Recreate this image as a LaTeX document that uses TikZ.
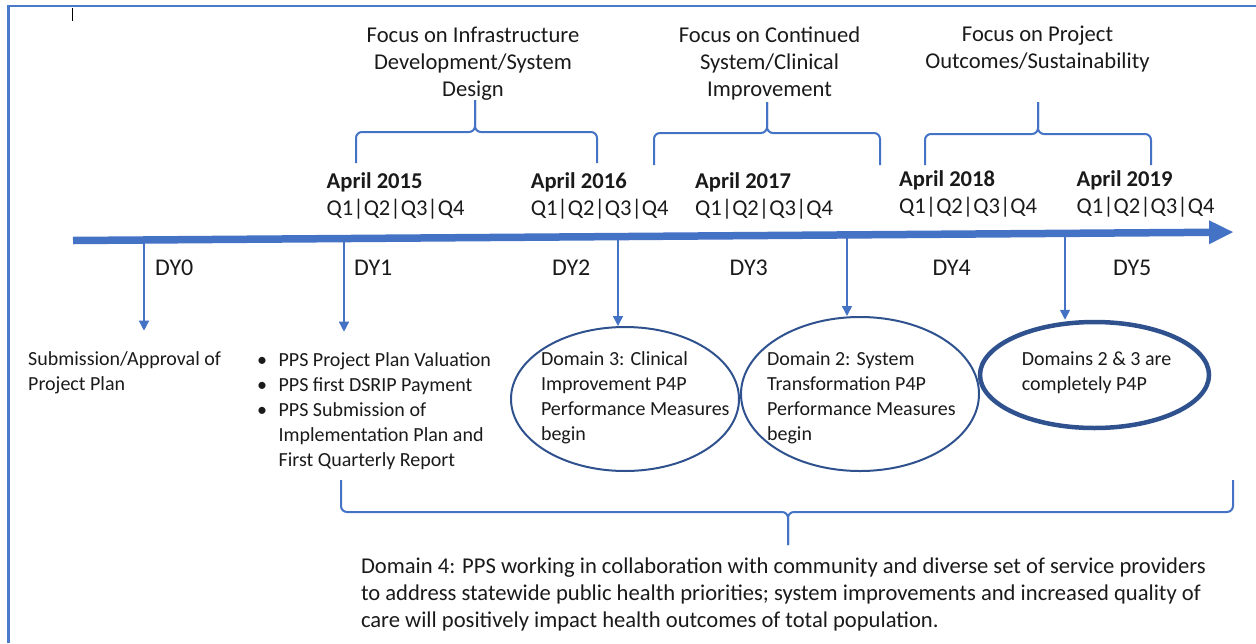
\documentclass[tikz,border=0pt]{standalone}
\usepackage{fontspec}
\setmainfont{Carlito}
\usetikzlibrary{arrows.meta,shapes.geometric}
\definecolor{lineblue}{HTML}{4472C4}
\definecolor{ellblue}{HTML}{2F528F}
\definecolor{frameblue}{HTML}{4A7BCB}
\definecolor{txt}{HTML}{1A1A1A}
\newcommand{\tlbrace}[6]{%
  \draw[brace] (#1,#6) -- (#1,#4) -- (#2,#4) -- (#2,#5);
  \draw[brace] (#3,#6) -- (#3,#4) -- (#2,#4) -- (#2,#5);}
\begin{document}
\begin{tikzpicture}[x=1pt,y=-1pt,
  fA/.style={font=\fontsize{22.6pt}{27.2pt}\selectfont, yshift=14.5pt},
  fB/.style={font=\fontsize{20pt}{25pt}\selectfont, yshift=15pt},
  fD/.style={font=\fontsize{24pt}{29pt}\selectfont},
  ttl/.style={inner sep=0pt, anchor=north west, align=left, text=txt, execute at begin node=\strut},
  ttc/.style={inner sep=0pt, anchor=north, align=center, text=txt, execute at begin node=\strut},
  dylabel/.style={fD, inner sep=0pt, anchor=base west, text=txt},
  dyarrow/.style={draw=lineblue, line width=1.5pt, -{Triangle[length=10pt,width=10pt]}},
  brace/.style={draw=lineblue, line width=2pt, rounded corners=6pt},
  shaft/.style={draw=lineblue, line width=7.5pt},
  head/.style={fill=lineblue},
  frame/.style={draw=frameblue, line width=2.4pt},
  dom/.style={ellipse, draw=ellblue, line width=2pt, inner sep=0pt},
]
\useasboundingbox (0,0) rectangle (1256,643);
% frame and cursor
\draw[frame] (8.5,643) -- (8.5,6) -- (1256,6);
\draw[black, line width=1pt] (72.5,8) -- (72.5,21);

% focus texts
\node[ttc, fA] (f1) at (473,41) {Focus on Infrastructure\\Development/System\\Design};
\node[ttc, fA] (f2) at (769.5,41) {Focus on Continued\\System/Clinical\\Improvement};
\node[ttc, fA] (f3) at (1037.5,40) {Focus on Project\\Outcomes/Sustainability};

% braces
\tlbrace{356}{475}{597}{132}{100}{163}
\tlbrace{654}{767}{880}{133}{102}{165}
\tlbrace{925}{1038}{1151}{134}{102}{165}
\tlbrace{341}{788}{1233}{512}{545}{480}

% years
\node[ttl, fA] (y15) at (326.5,187) {\textbf{April 2015}\\Q1|Q2|Q3|Q4};
\node[ttl, fA] (y16) at (530.6,187) {\textbf{April 2016}\\Q1|Q2|Q3|Q4};
\node[ttl, fA] (y17) at (695,187) {\textbf{April 2017}\\Q1|Q2|Q3|Q4};
\node[ttl, fA] (y18) at (899,184.5) {\textbf{April 2018}\\Q1|Q2|Q3|Q4};
\node[ttl, fA] (y19) at (1076.4,184.5) {\textbf{April 2019}\\Q1|Q2|Q3|Q4};

% timeline coordinates
\coordinate (c0) at (144,240);
\coordinate (c1) at (344,238.6);
\coordinate (c2) at (618,236.5);
\coordinate (c3) at (847,234.9);
\coordinate (c4) at (1065,233.3);

% DY labels
\node[dylabel] (dy0) at (155,275) {DY0};
\node[dylabel] (dy1) at (354,275) {DY1};
\node[dylabel] (dy2) at (552,275) {DY2};
\node[dylabel] (dy3) at (729.5,275) {DY3};
\node[dylabel] (dy4) at (932.4,275) {DY4};
\node[dylabel] (dy5) at (1113,275) {DY5};

% lower texts
\node[ttl, fB] (sub) at (28,366.7) {Submission/Approval of\\Project Plan};
\node[ttl, fB] (pps) at (257,367.7) {\makebox[21.4pt][l]{\textbullet}PPS Project Plan Valuation\\
  \makebox[21.4pt][l]{\textbullet}PPS first DSRIP Payment\\
  \makebox[21.4pt][l]{\textbullet}PPS Submission of\\
  \hspace*{21.4pt}Implementation Plan and\\
  \hspace*{21.4pt}First Quarterly Report};

% ellipses
\node[dom, minimum width=228pt, minimum height=144pt] (e1) at (625,399) {};
\node[dom, minimum width=238pt, minimum height=154pt] (e2) at (860,394) {};
\node[dom, line width=4.5pt, minimum width=229pt, minimum height=106pt] (e3) at (1094.5,375) {};
\node[ttl, fB] (t1) at (540.8,366.7) {Domain 3: Clinical\\Improvement P4P\\Performance Measures\\begin};
\node[ttl, fB] (t2) at (766.9,366.7) {Domain 2: System\\Transformation P4P\\Performance Measures\\begin};
\node[ttl, fB] (t3) at (1021.6,366.7) {Domains 2 \& 3 are\\completely P4P};

% bottom text
\node[ttl, fA] (d4) at (360.8,572) {Domain 4: PPS working in collaboration with community and diverse set of service providers\\to address statewide public health priorities; system improvements and increased quality of\\care will positively impact health outcomes of total population.};

% down arrows
\draw[dyarrow, shorten >=21pt] (c0) -- (c0 |- sub.north);
\draw[dyarrow, shorten >=21pt] (c1) -- (c1 |- pps.north);
\draw[dyarrow] (c2) -- (c2 |- e1.north);
\draw[dyarrow] (c3) -- (c3 |- e2.north);
\draw[dyarrow] (c4) -- (c4 |- e3.north);

% timeline
\draw[shaft] (73,240.5) -- (1211,232.3);
\fill[head] (1209,220.3) -- (1233,232.1) -- (1209,244.3) -- cycle;
\end{tikzpicture}
\end{document}
